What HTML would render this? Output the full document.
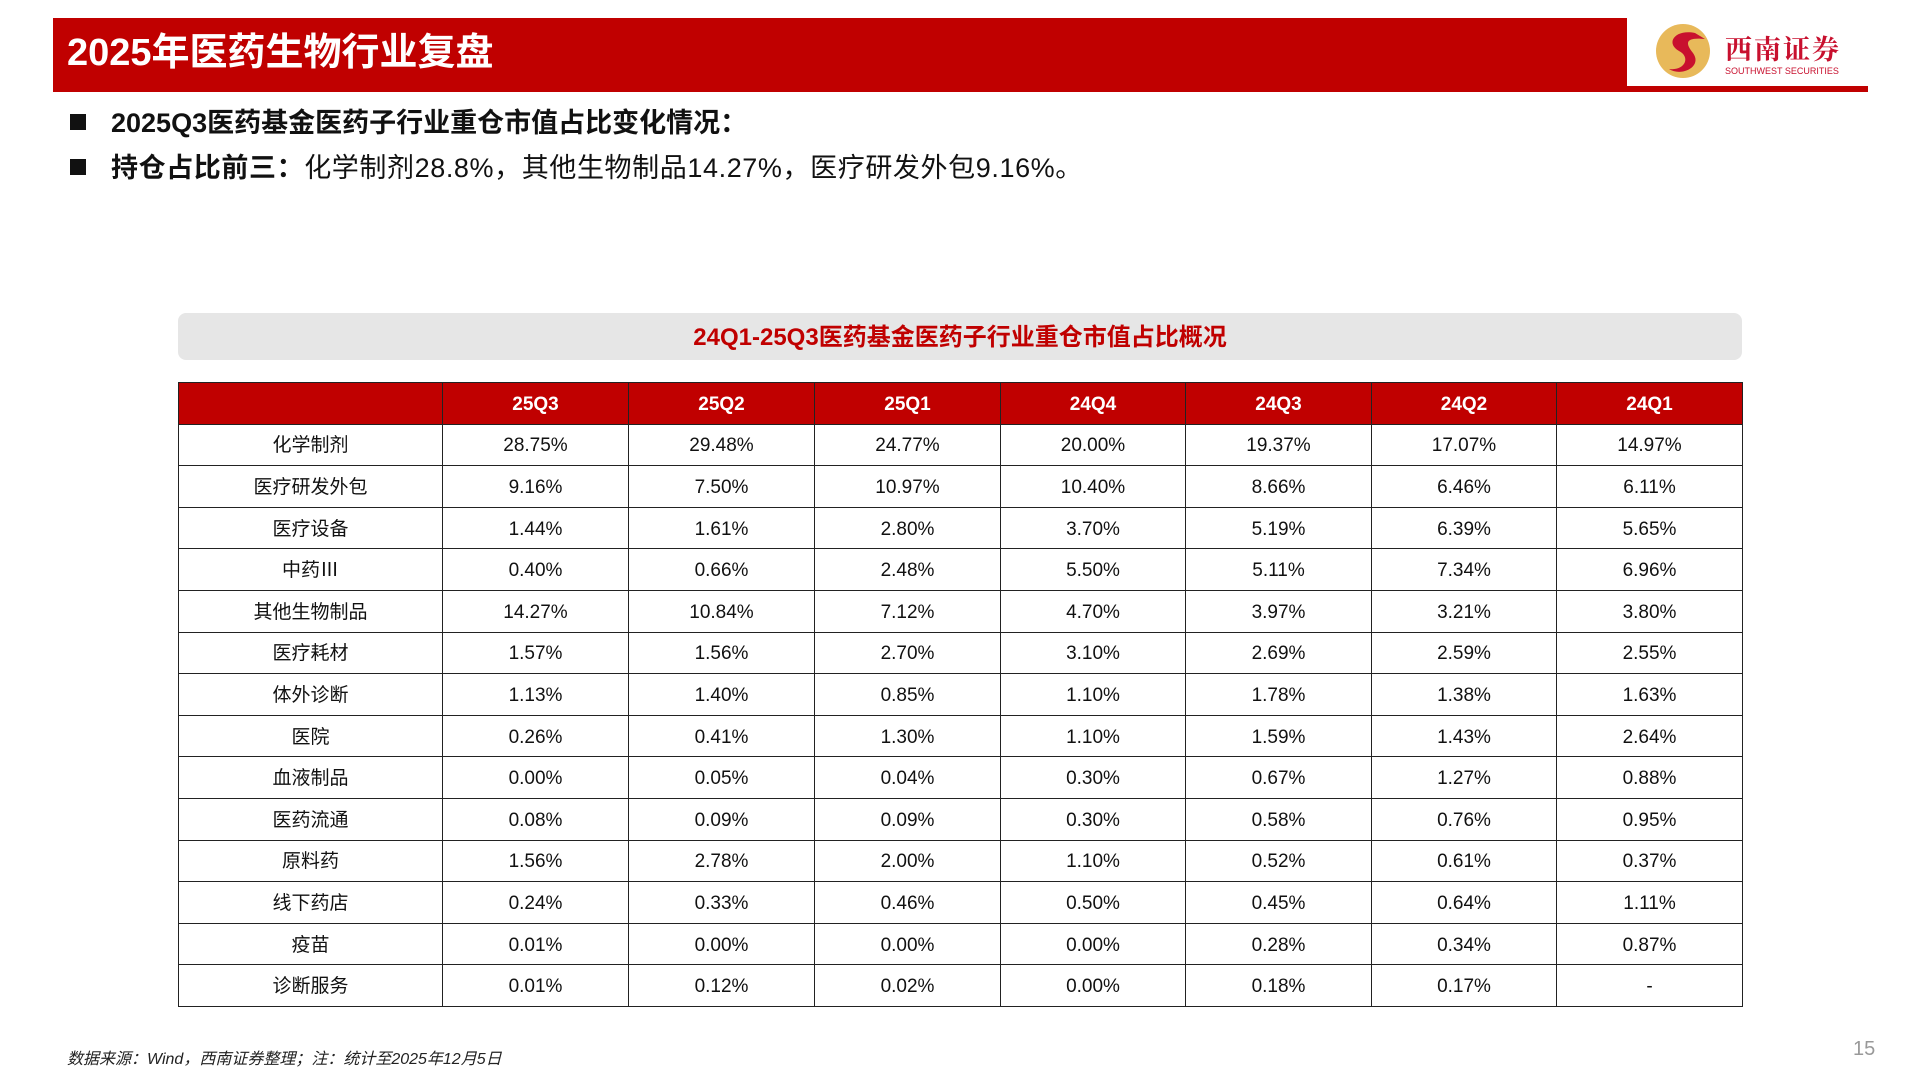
<!DOCTYPE html>
<html><head><meta charset="utf-8"><style>
body{margin:0;width:1920px;height:1080px;background:#fff;position:relative;overflow:hidden;font-family:"Liberation Sans","Noto Sans CJK SC",sans-serif}
.abs{position:absolute}
table{border-collapse:collapse;table-layout:fixed}
td,th{text-align:center;padding:3px 0 0 0;font-size:19px;color:#111;border:1px solid #222;height:37.6px;line-height:22px}
th{background:#c00000;color:#fff;font-weight:bold;border-color:#222;border-left:1px solid #fff}
</style></head><body>
<div class="abs" style="left:53px;top:18px;width:1574px;height:74px;background:#c00000"></div>
<div class="abs" style="left:1620px;top:86px;width:248px;height:6px;background:#c00000"></div>
<div class="abs" style="left:67px;top:28px;color:#fff;font-size:38px;font-weight:bold;line-height:50px">2025年医药生物行业复盘</div>
<div class="abs" style="left:1655px;top:20px;width:210px;height:62px">
<svg width="60" height="60" style="position:absolute;left:0;top:1px"><circle cx="28" cy="30" r="27" fill="#e8b95a"/><path d="M40 12 C20 8 10 22 24 30 C36 36 30 50 14 48 C26 56 48 46 38 32 C30 22 30 16 50 18 Z" fill="#c8102e"/></svg>
<div style="position:absolute;left:70px;top:8px;font-size:27px;color:#c8102e;font-weight:bold;font-family:'Noto Serif CJK SC',serif;letter-spacing:2px">西南证券</div>
<div style="position:absolute;left:70px;top:46px;font-size:9px;color:#c8102e">SOUTHWEST SECURITIES</div>
</div>
<div class="abs" style="left:70px;top:108px;font-size:27px;font-weight:bold;color:#111;line-height:30px"><span style="display:inline-block;width:16px;height:16px;background:#111;margin-right:25px;vertical-align:2px"></span>2025Q3医药基金医药子行业重仓市值占比变化情况：</div>
<div class="abs" style="left:70px;top:153px;font-size:27px;color:#111;line-height:30px;letter-spacing:0.6px"><span style="display:inline-block;width:16px;height:16px;background:#111;margin-right:25px;vertical-align:2px"></span><b>持仓占比前三：</b>化学制剂28.8%，其他生物制品14.27%，医疗研发外包9.16%。</div>
<div class="abs" style="left:178px;top:313px;width:1564px;height:47px;background:#e6e6e6;border-radius:8px;color:#c00000;font-weight:bold;font-size:24px;text-align:center;line-height:49px">24Q1-25Q3医药基金医药子行业重仓市值占比概况</div>
<table class="abs" id="tbl" style="left:178px;top:382px;width:1564px"></table>
<div class="abs" style="left:67px;top:1045px;font-size:16px;font-style:italic;color:#222">数据来源：Wind，西南证券整理；注：统计至2025年12月5日</div>
<div class="abs" style="left:1853px;top:1038px;font-size:20px;color:#999">15</div>
<script>
const quarters=["25Q3","25Q2","25Q1","24Q4","24Q3","24Q2","24Q1"];
const industries=["化学制剂","医疗研发外包","医疗设备","中药Ⅲ","其他生物制品","医疗耗材","体外诊断","医院","血液制品","医药流通","原料药","线下药店","疫苗","诊断服务"];
const values=[
["28.75%","29.48%","24.77%","20.00%","19.37%","17.07%","14.97%"],
["9.16%","7.50%","10.97%","10.40%","8.66%","6.46%","6.11%"],
["1.44%","1.61%","2.80%","3.70%","5.19%","6.39%","5.65%"],
["0.40%","0.66%","2.48%","5.50%","5.11%","7.34%","6.96%"],
["14.27%","10.84%","7.12%","4.70%","3.97%","3.21%","3.80%"],
["1.57%","1.56%","2.70%","3.10%","2.69%","2.59%","2.55%"],
["1.13%","1.40%","0.85%","1.10%","1.78%","1.38%","1.63%"],
["0.26%","0.41%","1.30%","1.10%","1.59%","1.43%","2.64%"],
["0.00%","0.05%","0.04%","0.30%","0.67%","1.27%","0.88%"],
["0.08%","0.09%","0.09%","0.30%","0.58%","0.76%","0.95%"],
["1.56%","2.78%","2.00%","1.10%","0.52%","0.61%","0.37%"],
["0.24%","0.33%","0.46%","0.50%","0.45%","0.64%","1.11%"],
["0.01%","0.00%","0.00%","0.00%","0.28%","0.34%","0.87%"],
["0.01%","0.12%","0.02%","0.00%","0.18%","0.17%","-"]];
const t=document.getElementById('tbl');
const cg=document.createElement('colgroup');
[264,186,186,186,185,186,185,186].forEach(w=>{const c=document.createElement('col');c.style.width=w+'px';cg.appendChild(c);});
t.appendChild(cg);
const hr=document.createElement('tr');


const h0=document.createElement('th');h0.style.borderLeft='1px solid #222';hr.appendChild(h0);
quarters.forEach(q=>{const th=document.createElement('th');th.textContent=q;


hr.appendChild(th);});
t.appendChild(hr);
industries.forEach((n,i)=>{const tr=document.createElement('tr');


const td=document.createElement('td');td.textContent=n;tr.appendChild(td);
values[i].forEach(v=>{const c=document.createElement('td');c.textContent=v;


tr.appendChild(c);});
t.appendChild(tr);});
</script>
</body></html>
